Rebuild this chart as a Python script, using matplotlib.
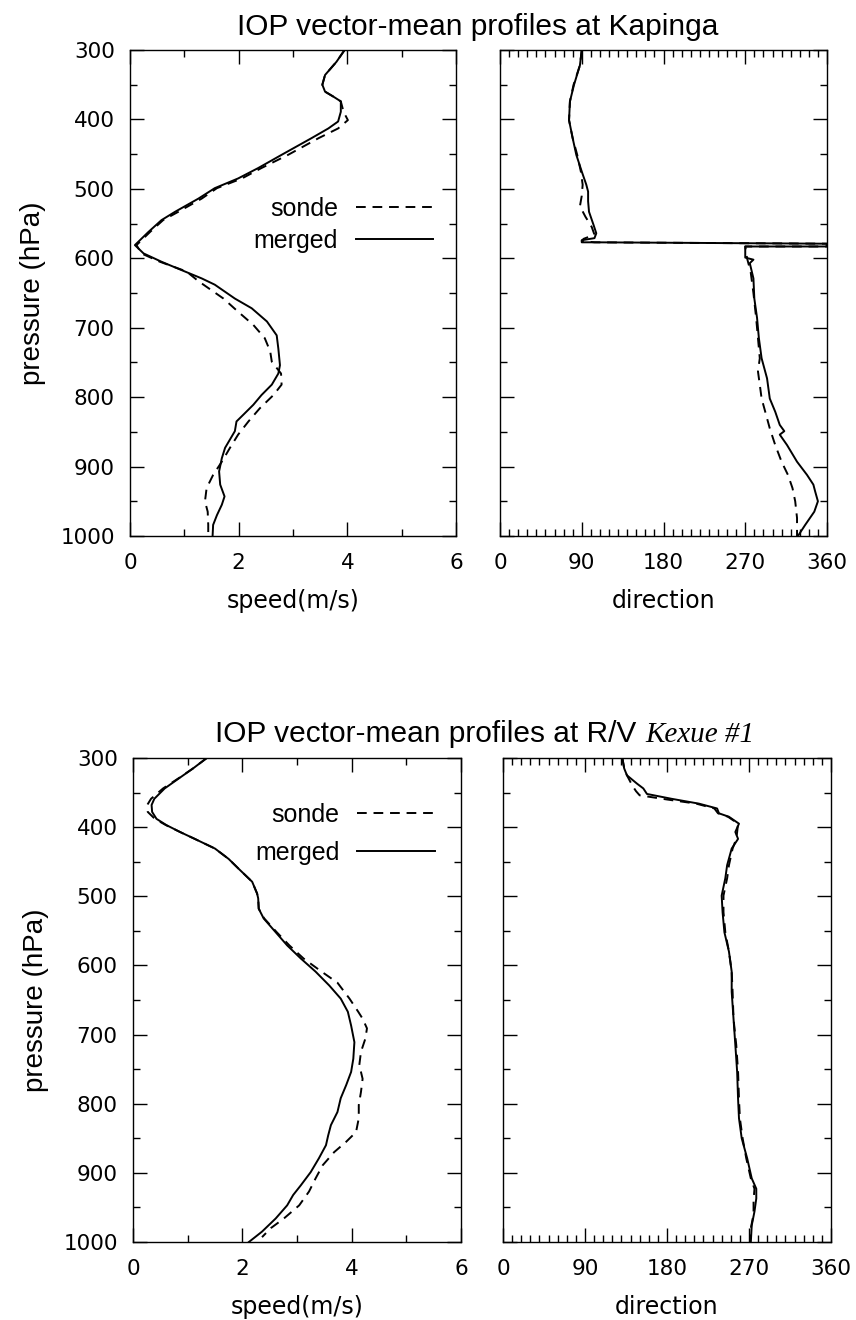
import numpy as np
import matplotlib
matplotlib.use("Agg")
from matplotlib import pyplot as plt
from matplotlib.ticker import MultipleLocator

#---------------------------------------------------------------------------
# Kapinga (top row)
kap_spd_p_merged = [300, 317, 336, 350, 360, 367, 374, 389, 403, 413, 427, 451, 470, 485, 499, 514,
                    533, 545, 562, 581, 593, 605, 619, 629, 638, 658, 672, 691, 711, 730, 754, 766,
                    782, 797, 811, 825, 835, 849, 861, 873, 888, 907, 926, 943, 955, 970, 984, 1000]
kap_spd_merged = [3.95, 3.80, 3.59, 3.54, 3.59, 3.74, 3.88, 3.88, 3.83, 3.65, 3.34, 2.79, 2.36, 1.99,
                  1.56, 1.26, 0.83, 0.58, 0.34, 0.09, 0.25, 0.58, 1.01, 1.32, 1.56, 1.93, 2.24, 2.52,
                  2.70, 2.73, 2.76, 2.73, 2.61, 2.42, 2.27, 2.09, 1.96, 1.93, 1.84, 1.75, 1.69, 1.64,
                  1.66, 1.74, 1.69, 1.60, 1.53, 1.52]
kap_spd_p_sonde = [300, 317, 336, 350, 360, 367, 374, 389, 401, 413, 427, 451, 470, 485, 499, 514,
                   533, 545, 562, 581, 593, 605, 619, 633, 658, 677, 696, 715, 734, 749, 766, 782,
                   797, 816, 835, 854, 873, 893, 912, 931, 950, 965, 984, 1000]
kap_spd_sonde = [3.95, 3.80, 3.59, 3.54, 3.59, 3.74, 3.88, 3.93, 4.01, 3.83, 3.47, 2.91, 2.42, 2.06,
                 1.60, 1.32, 0.89, 0.61, 0.37, 0.12, 0.21, 0.55, 1.04, 1.26, 1.72, 1.99, 2.27, 2.48,
                 2.58, 2.61, 2.78, 2.79, 2.64, 2.39, 2.18, 1.99, 1.84, 1.69, 1.53, 1.41, 1.38, 1.43,
                 1.44, 1.44]

kap_dir_p_merged = [300, 322, 350, 374, 401, 427, 451, 475, 494, 504, 518, 533, 552, 564, 571, 574,
                    577, 577, 579, 583, 583, 599, 602, 607, 629, 658, 686, 715, 744, 773, 802, 821,
                    840, 849, 854, 869, 893, 912, 926, 936, 950, 965, 984, 1000]
kap_dir_merged = [90, 88, 81.5, 77, 76, 80, 84, 90, 95, 97, 97, 98, 103, 106, 104, 90,
                  90, 106, 360, 360, 270, 270, 279, 275, 279, 280, 283, 285, 288, 294, 297, 303,
                  308, 313, 308, 316, 327, 338, 345, 347, 350, 346, 336, 328]
kap_dir_p_sonde = [300, 322, 350, 374, 401, 427, 451, 475, 494, 510, 525, 540, 555, 566, 572, 575,
                   577, 579, 583, 583, 600, 620, 650, 686, 715, 744, 763, 782, 802, 821, 845, 869,
                   893, 912, 931, 950, 974, 1000]
kap_dir_sonde = [90, 88, 81, 77, 76, 80, 85, 89, 91, 90, 88, 94, 101, 104, 92, 90,
                 104, 360, 360, 270, 272, 276, 279, 282, 284, 286, 284, 286, 288, 292, 297, 303,
                 310, 317, 322, 325, 327, 327]

# R/V Kexue #1 (bottom row)
kex_spd_p_merged = [300, 315, 330, 344, 359, 368, 378, 388, 397, 407, 417, 431, 446, 460, 479, 496,
                    503, 518, 532, 552, 571, 590, 609, 629, 648, 667, 687, 711, 735, 754, 773, 792,
                    812, 831, 846, 860, 879, 899, 918, 932, 947, 966, 985, 1000]
kex_spd_merged = [1.35, 1.10, 0.83, 0.58, 0.39, 0.34, 0.35, 0.43, 0.61, 0.86, 1.13, 1.50, 1.75, 1.93,
                  2.18, 2.27, 2.29, 2.30, 2.39, 2.61, 2.82, 3.07, 3.34, 3.59, 3.80, 3.93, 3.99, 4.05,
                  4.03, 3.99, 3.90, 3.80, 3.74, 3.62, 3.57, 3.53, 3.40, 3.25, 3.07, 2.93, 2.82, 2.61,
                  2.36, 2.12]
kex_spd_p_sonde = [300, 315, 330, 344, 359, 368, 378, 388, 397, 407, 417, 431, 446, 460, 479, 496,
                   503, 518, 532, 552, 571, 590, 609, 625, 648, 667, 677, 691, 706, 725, 744, 764,
                   783, 802, 821, 841, 855, 870, 889, 908, 927, 947, 966, 980, 993]
kex_spd_sonde = [1.35, 1.10, 0.82, 0.55, 0.33, 0.26, 0.27, 0.40, 0.60, 0.86, 1.13, 1.50, 1.75, 1.93,
                 2.18, 2.27, 2.29, 2.30, 2.40, 2.63, 2.86, 3.12, 3.45, 3.74, 3.96, 4.12, 4.20, 4.28,
                 4.25, 4.17, 4.14, 4.20, 4.17, 4.13, 4.13, 4.08, 3.90, 3.68, 3.47, 3.34, 3.22, 3.04,
                 2.76, 2.52, 2.36]

kex_dir_p_merged = [300, 315, 325, 337, 344, 352, 359, 366, 373, 380, 385, 395, 407, 417, 431, 455,
                    474, 499, 523, 552, 580, 609, 638, 677, 715, 754, 793, 821, 850, 879, 908, 923,
                    937, 956, 976, 1000]
kex_dir_merged = [131, 133, 136, 147, 154, 158, 185, 215, 235, 237, 248, 259, 255, 258, 251, 246,
                  244, 240, 241, 243, 248, 251, 251, 253, 255, 257, 258, 259, 262, 268, 273, 278,
                  278, 276, 273, 272]
kex_dir_p_sonde = [300, 315, 325, 340, 348, 354, 360, 366, 373, 380, 385, 395, 407, 417, 431, 455,
                   474, 499, 523, 552, 580, 609, 638, 677, 715, 754, 793, 821, 850, 879, 908, 923,
                   940, 960, 980, 1000]
kex_dir_sonde = [131, 133, 136, 142, 146, 150, 180, 212, 232, 236, 247, 258, 257, 256, 252, 248,
                 246, 242, 242, 244, 248, 251, 252, 253, 256, 258, 259, 260, 263, 267, 272, 276,
                 275, 275, 272, 271]

speed_ticks = [0, 2, 4, 6]
dir_ticks = [0, 90, 180, 270, 360]
p_ticks = [300, 400, 500, 600, 700, 800, 900, 1000]

#---------------------------------------------------------------------------
W, H = 856, 1320
SANS = 'Liberation Sans'
TICKFONT = 'DejaVu Sans'

fig = plt.figure(figsize=(W / 100.0, H / 100.0), dpi=100)

def px_rect(x0, y0, x1, y1):
    return [x0 / W, 1 - y1 / H, (x1 - x0) / W, (y1 - y0) / H]

def style_axes(ax, xmax, xminor, ticks, left_labels):
    ax.set_xlim(0, xmax)
    ax.set_ylim(1000, 300)
    ax.set_xticks(ticks)
    ax.xaxis.set_minor_locator(MultipleLocator(xminor))
    ax.set_yticks(p_ticks)
    ax.yaxis.set_minor_locator(MultipleLocator(50))
    ax.tick_params(which='both', direction='in', top=True, right=True, width=1.0)
    ax.tick_params(which='major', length=10, labelsize=15.5)
    ax.tick_params(axis='x', which='major', pad=12)
    ax.tick_params(axis='y', which='major', pad=11)
    ax.tick_params(which='minor', length=5)
    if not left_labels:
        ax.tick_params(labelleft=False)
    for lab in ax.get_xticklabels() + ax.get_yticklabels():
        lab.set_family(TICKFONT)
    for sp in ax.spines.values():
        sp.set_linewidth(1.0)

def profile_pair(rect_spd, rect_dir, sp_m, s_m, sp_s, s_s, dp_m, d_m, dp_s, d_s, leg_anchor, leg_sp):
    ax1 = fig.add_axes(px_rect(*rect_spd))
    ax1.plot(s_s, sp_s, color='black', lw=1.4, ls=(0, (5, 3.5)), label='sonde')
    ax1.plot(s_m, sp_m, color='black', lw=1.4, label='merged')
    style_axes(ax1, 6, 1, speed_ticks, True)
    ax1.set_xlabel('speed(m/s)', family=TICKFONT, fontsize=17, labelpad=12)
    ax1.set_ylabel('pressure (hPa)', family=SANS, fontsize=20, labelpad=10)
    ax1.legend(loc='center right', bbox_to_anchor=leg_anchor, frameon=False, markerfirst=False,
               prop={'family': SANS, 'size': 18}, handlelength=3.1, handletextpad=0.7,
               labelspacing=leg_sp, borderpad=0, borderaxespad=0)

    ax2 = fig.add_axes(px_rect(*rect_dir))
    ax2.plot(d_s, dp_s, color='black', lw=1.4, ls=(0, (5, 3.5)))
    ax2.plot(d_m, dp_m, color='black', lw=1.4)
    style_axes(ax2, 360, 10, dir_ticks, False)
    ax2.set_xlabel('direction', family=TICKFONT, fontsize=17, labelpad=12)
    return ax1, ax2

profile_pair((130, 50, 456, 536), (500, 50, 827, 536),
             kap_spd_p_merged, kap_spd_merged, kap_spd_p_sonde, kap_spd_sonde,
             kap_dir_p_merged, kap_dir_merged, kap_dir_p_sonde, kap_dir_sonde,
             (0.93, 0.640), 0.3)
profile_pair((133, 758, 461, 1242), (503, 758, 831, 1242),
             kex_spd_p_merged, kex_spd_merged, kex_spd_p_sonde, kex_spd_sonde,
             kex_dir_p_merged, kex_dir_merged, kex_dir_p_sonde, kex_dir_sonde,
             (0.92, 0.843), 0.55)

fig.text(478 / W, 1 - 35 / H, 'IOP vector-mean profiles at Kapinga', family=SANS,
         fontsize=21.5, ha='center', va='baseline')
t1 = fig.text(215 / W, 1 - 742 / H, 'IOP vector-mean profiles at R/V', family=SANS,
              fontsize=21.5, ha='left', va='baseline')
fig.canvas.draw()
bb = t1.get_window_extent()
fig.text((bb.x1 + 9) / W, 1 - 742 / H, 'Kexue #1', family='Liberation Serif', style='italic',
         fontsize=21, ha='left', va='baseline')

fig.savefig('out.png', dpi=100, facecolor='white')
